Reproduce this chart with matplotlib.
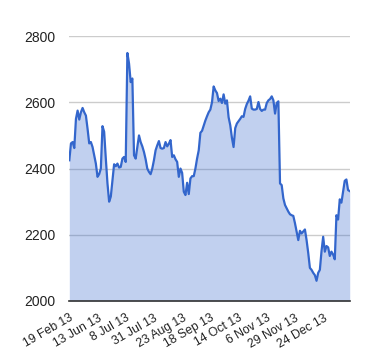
import matplotlib
matplotlib.use("Agg")
import matplotlib.pyplot as plt

plt.rcParams["font.family"] = ["Liberation Sans", "DejaVu Sans"]

# values, one per category (trading day)
values = [
    2425, 2476, 2480, 2462, 2550, 2575, 2548, 2570, 2583, 2570,
    2560, 2520, 2476, 2480, 2465, 2440, 2415, 2375, 2383, 2400,
    2528, 2511, 2430, 2355, 2300, 2315, 2365, 2413, 2407, 2415,
    2403, 2405, 2430, 2435, 2420, 2749, 2717, 2661, 2672, 2440,
    2430, 2465, 2500, 2480, 2467, 2450, 2428, 2400, 2390, 2383,
    2400, 2425, 2455, 2470, 2483, 2462, 2460, 2462, 2480, 2467,
    2475, 2486, 2435, 2440, 2428, 2420, 2375, 2400, 2387, 2330,
    2320, 2357, 2323, 2370, 2377, 2377, 2400, 2430, 2455, 2508,
    2514, 2530, 2545, 2558, 2570, 2578, 2600, 2648, 2636, 2628,
    2604, 2611, 2598, 2624, 2596, 2606, 2555, 2531, 2493, 2465,
    2522, 2536, 2543, 2550, 2558, 2556, 2580, 2595, 2605, 2618,
    2581, 2578, 2578, 2580, 2601, 2580, 2574, 2578, 2578, 2598,
    2606, 2610, 2618, 2606, 2566, 2598, 2603, 2355, 2350, 2310,
    2290, 2280, 2270, 2262, 2259, 2257, 2235, 2210, 2184, 2212,
    2204, 2210, 2216, 2184, 2145, 2100, 2094, 2085, 2078, 2061,
    2085, 2094, 2150, 2194, 2149, 2166, 2162, 2136, 2149, 2140,
    2126, 2259, 2246, 2307, 2297, 2330, 2363, 2367, 2335, 2332,
]
tick_labels = ["19 Feb 13", "13 Jun 13", "8 Jul 13", "31 Jul 13", "23 Aug 13",
               "18 Sep 13", "14 Oct 13", "6 Nov 13", "29 Nov 13", "24 Dec 13"]
label_every = 17
y_ticks = [2000, 2200, 2400, 2600, 2800]

x = list(range(len(values)))

fig = plt.figure(figsize=(3.8, 3.6), dpi=100)
ax = fig.add_axes([0.1824, 0.1639, 0.9203 - 0.1824, 0.8997 - 0.1639])

ax.fill_between(x, 2000, values, color="#3366cc", alpha=0.3, linewidth=0, zorder=2)
ax.plot(x, values, color="#3366cc", linewidth=1.6, zorder=3)

ax.set_xlim(0, len(values) - 1)
ax.set_ylim(2000, 2800)
ax.set_yticks(y_ticks)
ax.set_yticklabels([str(v) for v in y_ticks])
ax.set_xticks(x[::label_every])
ax.set_xticklabels(tick_labels, rotation=30, ha="right", rotation_mode="anchor")

ax.grid(axis="y", color="#cccccc", linewidth=1, zorder=1)
ax.set_axisbelow(True)
ax.tick_params(axis="y", length=0, pad=10, labelsize=10, labelcolor="#222222")
ax.tick_params(axis="x", length=0, pad=8, labelsize=8.8, labelcolor="#222222")

for side in ["top", "right", "left"]:
    ax.spines[side].set_visible(False)
ax.spines["bottom"].set_color("#333333")
ax.spines["bottom"].set_linewidth(1.2)
ax.spines["bottom"].set_zorder(4)

fig.savefig("out.png", dpi=100, facecolor="white")
